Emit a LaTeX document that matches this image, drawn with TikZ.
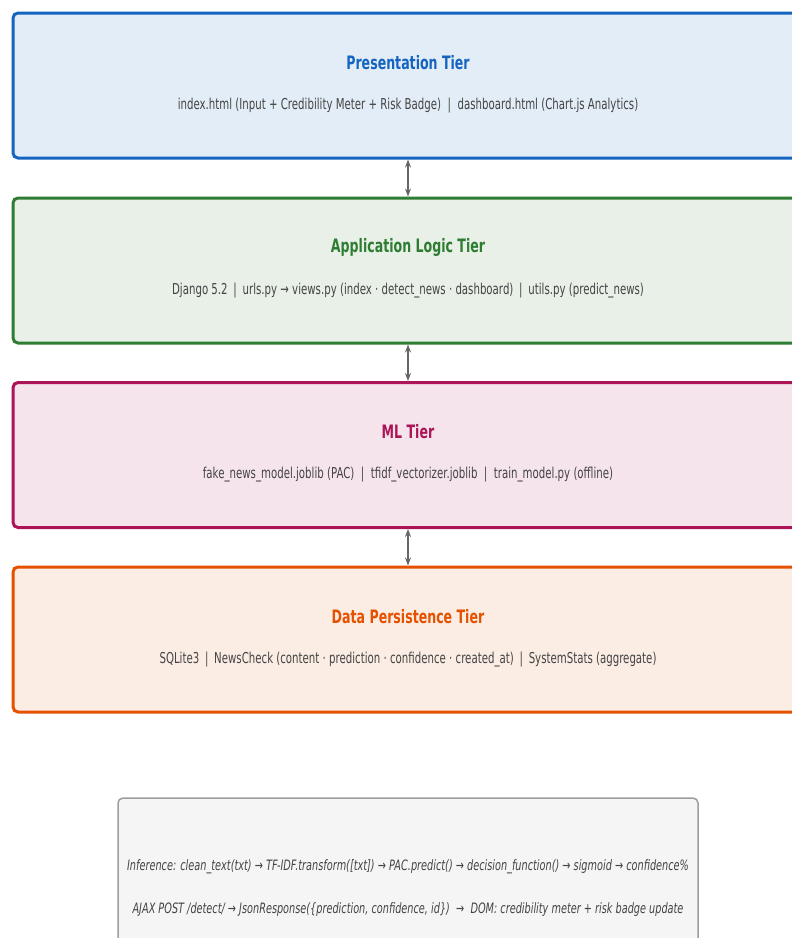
\documentclass[tikz,border=0pt]{standalone}
\usepackage{fontspec}
\setmainfont{DejaVu Sans}[FakeStretch=0.68]
\usepackage{tikz}
\usetikzlibrary{arrows.meta, positioning}

\definecolor{presblue}{HTML}{1565C0}
\definecolor{presfill}{HTML}{E3EDF8}
\definecolor{appgreen}{HTML}{2E7D32}
\definecolor{appfill}{HTML}{E8F0E8}
\definecolor{mlred}{HTML}{AD1457}
\definecolor{mlfill}{HTML}{F6E4EC}
\definecolor{dataorange}{HTML}{E65100}
\definecolor{datafill}{HTML}{FBEDE4}
\definecolor{notegray}{HTML}{9E9E9E}
\definecolor{notefill}{HTML}{F5F5F5}
\definecolor{bodytext}{HTML}{444444}
\definecolor{linkgray}{HTML}{666666}

\tikzset{
	tierbox/.style={draw=#1, line width=3pt, rounded corners=5pt,
		minimum width=790pt, minimum height=145pt, inner sep=0pt}
}
\tikzset{
	tiertitle/.style={font=\fontsize{18.5}{20}\selectfont\bfseries, text=#1},
	tierbody/.style={font=\fontsize{15}{17}\selectfont, text=bodytext},
	notebody/.style={font=\fontsize{14.3}{16}\selectfont\itshape, text=bodytext},
	tierlink/.style={{Stealth[length=8pt,width=6pt]}-{Stealth[length=8pt,width=6pt]}, line width=1.8pt, draw=linkgray}
}

\begin{document}
\begin{tikzpicture}[x=1pt, y=-1pt]
      \clip (0,0) rectangle (792,938);
      % the four tiers
      \node[tierbox=presblue, fill=presfill] (pres) at (408,85.5) {};
      \node[tierbox=appgreen, fill=appfill] (app) at (408,270.5) {};
      \node[tierbox=mlred, fill=mlfill] (ml) at (408,455) {};
      \node[tierbox=dataorange, fill=datafill] (data) at (408,639.5) {};
      \node[tiertitle=presblue] (presT) at ([yshift=23pt]pres.center) {Presentation Tier};
      \node[tierbody] (presB) at ([yshift=-20pt]pres.center) {index.html (Input + Credibility Meter + Risk Badge) \ | \ dashboard.html (Chart.js Analytics)};
      \node[tiertitle=appgreen] (appT) at ([yshift=23pt]app.center) {Application Logic Tier};
      \node[tierbody] (appB) at ([yshift=-20pt]app.center) {Django 5.2 \,|\, urls.py → views.py (index · detect\_news · dashboard) \,|\, utils.py (predict\_news)};
      \node[tiertitle=mlred] (mlT) at ([yshift=23pt]ml.center) {ML Tier};
      \node[tierbody] (mlB) at ([yshift=-20pt]ml.center) {fake\_news\_model.joblib (PAC) \ | \ tfidf\_vectorizer.joblib \ | \ train\_model.py (offline)};
      \node[tiertitle=dataorange] (dataT) at ([yshift=23pt]data.center) {Data Persistence Tier};
      \node[tierbody] (dataB) at ([yshift=-20pt]data.center) {SQLite3 \,|\, NewsCheck (content · prediction · confidence · created\_at) \,|\, SystemStats (aggregate)};
      % links between tiers
      \draw[tierlink] (pres.south) -- (app.north);
      \draw[tierlink] (app.south) -- (ml.north);
      \draw[tierlink] (ml.south) -- (data.north);
      % request flow note
      \node[draw=notegray, fill=notefill, line width=1.5pt, rounded corners=5pt,
        minimum width=580pt, minimum height=180pt] (flow) at (408,888) {};
      \node[notebody] (flowA) at ([yshift=21.5pt]flow.center) {Inference: clean\_text(txt) → TF-IDF.transform([txt]) → PAC.predict() → decision\_function() → sigmoid → confidence\%};
      \node[notebody] (flowB) at ([yshift=-21.5pt]flow.center) {AJAX POST /detect/ → JsonResponse(\{prediction, confidence, id\}) \ → \ DOM: credibility meter + risk badge update};
\end{tikzpicture}
\end{document}
